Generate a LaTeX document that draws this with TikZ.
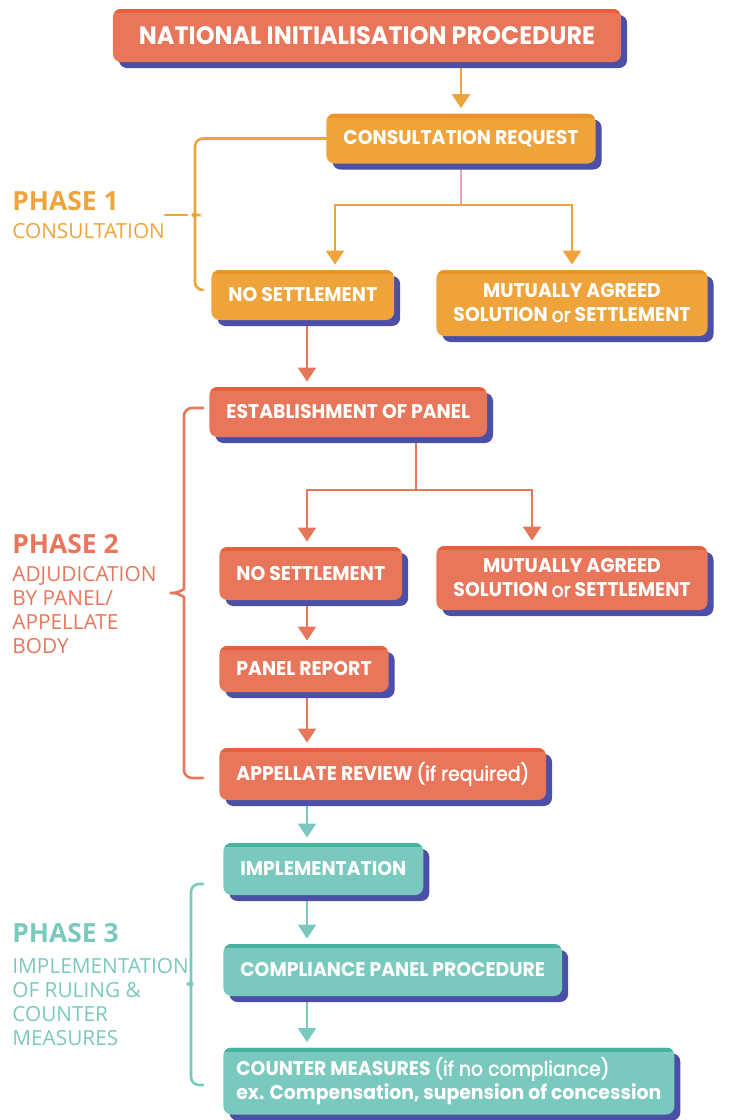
\documentclass[tikz,border=0pt]{standalone}
\usepackage{fontspec}
\setmainfont{Open Sans}
\newfontfamily\boxfont{Poppins}[FakeStretch=0.95]
\newfontfamily\boxmid{Poppins}[FakeStretch=0.95, FakeBold=2]
\usetikzlibrary{arrows.meta,shadows,backgrounds}

\definecolor{orfill}{HTML}{EFA43B}
\definecolor{ortop}{HTML}{EA9426}
\definecolor{rdfill}{HTML}{E8765A}
\definecolor{rdtop}{HTML}{E5613D}
\definecolor{tlfill}{HTML}{7AC9BE}
\definecolor{tltop}{HTML}{47B39E}
\definecolor{shade}{HTML}{4B4FA6}
\definecolor{pinkline}{HTML}{EBA3BC}

\tikzset{
  stage/.style n args={2}{rounded corners=4pt, fill=#1, text=white,
    inner xsep=8.5pt, inner ysep=0pt, minimum height=25pt, align=center,
    font=\boxfont\bfseries\fontsize{9.9}{12}\selectfont,
    drop shadow={shadow xshift=3pt, shadow yshift=-3pt, fill=shade, opacity=1},
    path picture={\fill[#2, sharp corners] (path picture bounding box.north west)
      rectangle ([yshift=-2pt]path picture bounding box.north east);}},
  orbox/.style={stage={orfill}{ortop}},
  rdbox/.style={stage={rdfill}{rdtop}},
  tlbox/.style={stage={tlfill}{tltop}},
  link/.style={line width=1.2pt, shorten >=2.5pt, -{Triangle[width=9pt,length=7pt]}},
  wire/.style={line width=1.2pt},
  brace/.style={line width=1.3pt, line cap=round, rounded corners=4pt},
  phasehead/.style={anchor=base west, inner sep=0pt, font=\bfseries\fontsize{13.2}{15}\selectfont},
  phasetext/.style={anchor=north west, inner sep=0pt, align=left, font=\fontsize{10.4}{12}\selectfont}
}
\newcommand{\soft}[1]{{\boxmid\mdseries #1}}

\begin{document}
\begin{tikzpicture}[x=0.5pt, y=-0.5pt]
  \useasboundingbox (0,0) rectangle (729,1120);

  % phase 1 boxes
  \node[rdbox, font=\boxfont\bfseries\fontsize{12.6}{14}\selectfont, inner xsep=13pt,
    minimum height=26.5pt] (nip) at (367,35.5) {NATIONAL INITIALISATION PROCEDURE};
  \node[orbox] (req) at (461,138.5) {CONSULTATION REQUEST};
  \node[orbox, anchor=west] (nos1) at (211,295) {NO SETTLEMENT};
  \node[orbox, minimum height=33pt] (mas1) at (572,303) {MUTUALLY AGREED\\SOLUTION \soft{or} SETTLEMENT};

  % phase 2 boxes
  \node[rdbox, anchor=west] (est) at (209,412) {ESTABLISHMENT OF PANEL};
  \node[rdbox, anchor=west, minimum height=26.5pt] (nos2) at (219,573.5) {NO SETTLEMENT};
  \node[rdbox, minimum height=32pt] (mas2) at (572,578) {MUTUALLY AGREED\\SOLUTION \soft{or} SETTLEMENT};
  \node[rdbox, anchor=west, minimum height=23pt] (rep) at (219,669) {PANEL REPORT};
  \node[rdbox, anchor=west, minimum height=26pt] (app) at (219,774) {APPELLATE REVIEW \soft{(if required)}};

  % phase 3 boxes
  \node[tlbox, anchor=west, minimum height=26pt] (imp) at (223,869) {IMPLEMENTATION};
  \node[tlbox, anchor=west, minimum height=26pt] (cpp) at (223,970) {COMPLIANCE PANEL PROCEDURE};
  \node[tlbox, anchor=west, minimum height=33.5pt, align=left, inner xsep=6.5pt,
    font=\boxfont\bfseries\fontsize{9.9}{12}\selectfont] (cm) at (223,1081)
    {COUNTER MEASURES \soft{(if no compliance)}\\ex. Compensation, supension of concession};

  % split points
  \coordinate (trunk) at (307,0);
  \coordinate (split1) at (461,205);
  \coordinate (l1) at (335,205);
  \coordinate (r1) at (572,205);
  \coordinate (split2) at (416,490);
  \coordinate (r2) at (532,490);

  \begin{scope}[on background layer]
    \draw[link, orfill] (nip.south -| req.north) -- (req.north);
    \draw[wire, pinkline, line width=0.8pt] (req.south) -- (split1);
    \draw[link, orfill] (split1) -| (l1 |- nos1.north);
    \draw[link, orfill] (split1) -| (r1 |- mas1.north);
    \draw[link, rdfill] (nos1.south -| trunk) -- (est.north -| trunk);
    \draw[wire, rdfill] (est.south -| split2) -- (split2);
    \draw[link, rdfill] (split2) -| (trunk |- nos2.north);
    \draw[link, rdfill] (split2) -| (r2 |- mas2.north);
    \draw[link, rdfill] (nos2.south -| trunk) -- (rep.north -| trunk);
    \draw[link, rdfill] (rep.south -| trunk) -- (app.north -| trunk);
    \draw[link, tlfill] (app.south -| trunk) -- (imp.north -| trunk);
    \draw[link, tlfill] (imp.south -| trunk) -- (cpp.north -| trunk);
    \draw[link, tlfill] (cpp.south -| trunk) -- (cm.north -| trunk);
  \end{scope}

  % braces
  \draw[brace, orfill] (req.west) -| (195,206) .. controls (195,212) and (192,215) .. (187,215)
    .. controls (192,215) and (195,218) .. (195,224) |- (203,290);
  \draw[brace, orfill] (187,215) -- (165,215);
  \draw[brace, rdfill] (203,408) -| (184,581) .. controls (184,589) and (178,593) .. (165,593)
    .. controls (178,593) and (184,597) .. (184,605) |- (203,778);
  \draw[brace, tlfill] (203,884) -| (191,975) .. controls (191,981) and (188,984) .. (182,984)
    .. controls (188,984) and (191,987) .. (191,993) |- (203,1085);

  % phase labels
  \node[phasehead, text=orfill] (ph1) at (12,210) {PHASE 1};
  \node[phasetext, text=orfill] (ph1txt) at (12,223) {CONSULTATION};
  \node[phasehead, text=rdfill] (ph2) at (12,553) {PHASE 2};
  \node[phasetext, text=rdfill] (ph2txt) at (12,566) {ADJUDICATION\\BY PANEL/\\APPELLATE\\BODY};
  \node[phasehead, text=tlfill] (ph3) at (12,942) {PHASE 3};
  \node[phasetext, text=tlfill] (ph3txt) at (12,958) {IMPLEMENTATION\\OF RULING \&\\COUNTER\\MEASURES};
\end{tikzpicture}
\end{document}
